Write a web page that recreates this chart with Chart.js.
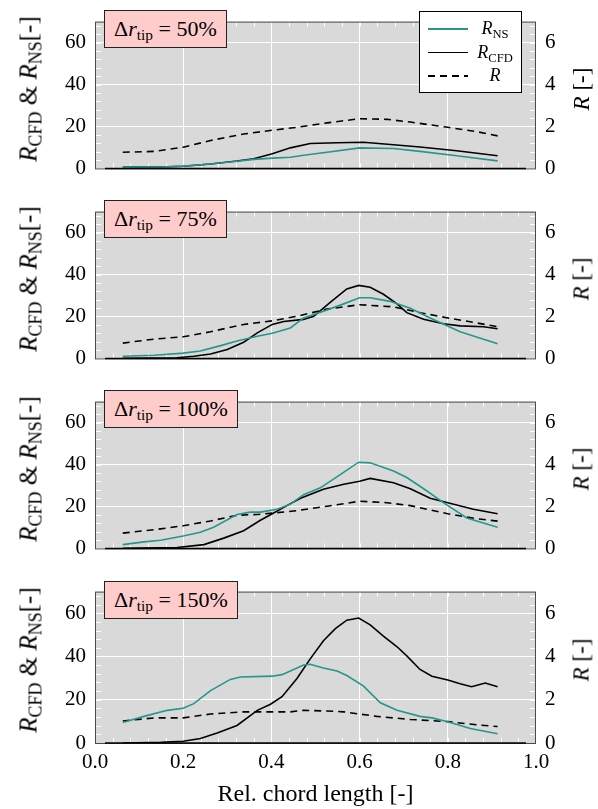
<!DOCTYPE html>
<html>
<head>
<meta charset="utf-8">
<script src="https://cdn.jsdelivr.net/npm/chart.js@4.4.1/dist/chart.umd.min.js"></script>
<style>
  html,body{margin:0;padding:0;background:#fff;}
  body{width:598px;height:809px;position:relative;overflow:hidden;font-family:"Liberation Serif",serif;color:#000;}
  .panel{position:absolute;left:0;width:598px;}
  canvas{display:block;}
  .ann{position:absolute;left:104px;top:10px;height:36px;line-height:36px;padding:0 9px;background:#ffcccc;border:1px solid #222;
       font-size:22px;white-space:nowrap;}
  sub{font-size:0.7em;vertical-align:-0.28em;line-height:0;}
  .vt{position:absolute;white-space:nowrap;transform:translate(-50%,-50%) rotate(-90deg);font-size:23px;line-height:1;}
  .vt.big{font-size:25px;}
  .vt.big sub{font-size:0.72em;}
  .legend{position:absolute;left:419px;top:11px;width:101px;height:80px;background:#fff;border:1px solid #000;}
  .lrow{position:absolute;left:0;width:101px;height:22px;}
  .lline{position:absolute;left:8px;top:11px;width:40px;height:1.6px;}
  .ltxt{position:absolute;left:52px;width:46px;text-align:center;top:0;font-size:18px;line-height:22px;}
</style>
</head>
<body>
<script>
// ---------------- data ----------------
const chordTicks = [0.0, 0.2, 0.4, 0.6, 0.8, 1.0];
const leftTicks = [0, 20, 40, 60];
const rightTicks = [0, 2, 4, 6];
const tipLabels = ['50%', '75%', '100%', '150%'];

// Δr_tip = 50%
const p50_ns_x  = [0.063,0.149,0.200,0.262,0.322,0.360,0.402,0.443,0.473,0.526,0.600,0.677,0.737,0.820,0.913];
const p50_ns_y  = [0.6,0.7,1.1,2.1,3.4,4.3,4.9,5.3,6.3,7.7,9.8,9.5,8.1,6.0,3.6];
const p50_cfd_x = [0.063,0.149,0.200,0.262,0.322,0.360,0.402,0.443,0.488,0.549,0.609,0.677,0.737,0.820,0.913];
const p50_cfd_y = [0.6,0.7,1.0,2.1,3.5,4.6,7.0,9.8,11.9,12.2,12.5,11.3,10.2,8.4,6.0];
const p50_r_x   = [0.063,0.134,0.200,0.262,0.337,0.402,0.458,0.526,0.600,0.662,0.715,0.800,0.866,0.913];
const p50_r_y   = [0.77,0.81,1.01,1.33,1.64,1.82,1.96,2.17,2.37,2.34,2.21,1.96,1.75,1.55];

// Δr_tip = 75%
const p75_ns_x  = [0.063,0.134,0.200,0.239,0.285,0.322,0.368,0.402,0.443,0.473,0.518,0.564,0.600,0.624,0.669,0.715,0.760,0.828,0.913];
const p75_ns_y  = [1.0,1.5,2.5,3.5,6.1,8.3,10.6,12.0,14.5,19.3,22.5,26.0,28.9,28.9,27.2,23.9,19.3,12.7,7.0];
const p75_cfd_x = [0.063,0.186,0.224,0.262,0.300,0.337,0.368,0.402,0.428,0.473,0.496,0.534,0.571,0.598,0.624,0.654,0.685,0.707,0.745,0.790,0.828,0.881,0.913];
const p75_cfd_y = [0.1,0.3,1.0,2.1,4.2,7.7,12.2,16.2,17.6,18.6,20.1,26.8,33.1,34.8,33.9,30.6,26.0,21.8,18.7,16.5,15.5,15.1,14.1];
const p75_r_x   = [0.063,0.134,0.200,0.262,0.337,0.402,0.458,0.526,0.600,0.677,0.737,0.800,0.866,0.913];
const p75_r_y   = [0.73,0.92,1.03,1.27,1.62,1.79,2.01,2.35,2.56,2.46,2.18,1.93,1.69,1.51];

// Δr_tip = 100%
const p100_ns_x  = [0.063,0.111,0.149,0.200,0.239,0.269,0.322,0.352,0.375,0.413,0.443,0.473,0.511,0.556,0.598,0.624,0.677,0.707,0.752,0.790,0.843,0.913];
const p100_ns_y  = [1.8,3.1,3.9,5.9,7.7,10.1,16.2,17.3,17.3,18.7,21.1,25.6,28.9,35.2,41.1,40.8,36.9,33.8,27.5,21.8,14.5,10.1];
const p100_cfd_x = [0.063,0.186,0.247,0.292,0.337,0.375,0.402,0.435,0.466,0.518,0.564,0.600,0.624,0.677,0.715,0.760,0.800,0.858,0.913];
const p100_cfd_y = [0.0,0.4,1.8,4.9,8.4,13.4,16.5,20.4,23.9,28.2,30.6,32.0,33.4,31.3,28.4,23.9,21.8,18.7,16.5];
const p100_r_x   = [0.063,0.134,0.200,0.262,0.322,0.368,0.402,0.458,0.526,0.600,0.662,0.715,0.800,0.866,0.913];
const p100_r_y   = [0.73,0.89,1.08,1.31,1.58,1.62,1.68,1.80,2.01,2.25,2.18,2.04,1.65,1.41,1.30];

// Δr_tip = 150%
const p150_ns_x  = [0.063,0.111,0.164,0.200,0.224,0.262,0.307,0.330,0.402,0.424,0.473,0.488,0.518,0.549,0.571,0.609,0.647,0.685,0.737,0.764,0.800,0.851,0.913];
const p150_ns_y  = [9.5,12.3,15.1,16.1,18.2,24.2,29.4,30.5,30.9,31.6,36.1,36.4,34.7,33.3,31.2,26.3,18.6,15.1,12.3,11.6,9.8,6.7,4.3];
const p150_cfd_x = [0.063,0.149,0.200,0.239,0.277,0.322,0.368,0.398,0.424,0.458,0.488,0.518,0.545,0.571,0.598,0.624,0.654,0.685,0.707,0.737,0.764,0.800,0.828,0.854,0.885,0.913];
const p150_cfd_y = [0.0,0.3,0.8,2.1,4.6,8.1,15.1,17.9,21.4,29.8,38.9,47.3,52.9,56.8,57.8,54.6,49.4,44.5,40.3,34.0,30.9,29.1,27.4,26.0,27.7,26.0];
const p150_r_x   = [0.063,0.134,0.200,0.262,0.337,0.402,0.443,0.473,0.526,0.564,0.600,0.639,0.715,0.800,0.866,0.913];
const p150_r_y   = [1.02,1.16,1.16,1.34,1.44,1.44,1.44,1.51,1.48,1.44,1.34,1.23,1.09,0.99,0.84,0.76];

// ---------------- drawing ----------------
const TEAL = '#26968c';
const FONT_FAMILY = "'Liberation Serif', serif";
const BG = '#d9d9d9';
Chart.defaults.font.family = FONT_FAMILY;
Chart.defaults.color = '#000';

const pairs = (xs, ys) => xs.map((x, i) => ({x: x, y: ys[i]}));

const panels = [
  {tip: tipLabels[0], ns: pairs(p50_ns_x, p50_ns_y),   cfd: pairs(p50_cfd_x, p50_cfd_y),   r: pairs(p50_r_x, p50_r_y)},
  {tip: tipLabels[1], ns: pairs(p75_ns_x, p75_ns_y),   cfd: pairs(p75_cfd_x, p75_cfd_y),   r: pairs(p75_r_x, p75_r_y)},
  {tip: tipLabels[2], ns: pairs(p100_ns_x, p100_ns_y), cfd: pairs(p100_cfd_x, p100_cfd_y), r: pairs(p100_r_x, p100_r_y)},
  {tip: tipLabels[3], ns: pairs(p150_ns_x, p150_ns_y), cfd: pairs(p150_cfd_x, p150_cfd_y), r: pairs(p150_r_x, p150_r_y)}
];

const bgPlugin = {
  id: 'bgPlugin',
  beforeDraw(chart) {
    const {ctx, chartArea: a} = chart;
    ctx.save();
    ctx.fillStyle = BG;
    ctx.fillRect(a.left, a.top, a.right - a.left, a.bottom - a.top);
    ctx.restore();
  },
  beforeDatasetsDraw(chart) {
    const {ctx, chartArea: a, scales} = chart;
    ctx.save();
    ctx.strokeStyle = '#ffffff';
    ctx.lineWidth = 1;
    ctx.beginPath();
    for (let i = 0; i <= 25; i++) {
      const px = Math.round(scales.x.getPixelForValue(i * 0.04)) + 0.5;
      ctx.moveTo(px, a.top); ctx.lineTo(px, a.top + 5);
      ctx.moveTo(px, a.bottom - 5); ctx.lineTo(px, a.bottom);
    }
    for (let i = 0; i <= 17; i++) {
      const py = Math.round(scales.y.getPixelForValue(i * 4)) + 0.5;
      ctx.moveTo(a.left, py); ctx.lineTo(a.left + 6, py);
      const py2 = Math.round(scales.y2.getPixelForValue(i * 0.4)) + 0.5;
      ctx.moveTo(a.right - 6, py2); ctx.lineTo(a.right, py2);
    }
    ctx.stroke();
    ctx.restore();
  },
  afterDraw(chart) {
    const {ctx, chartArea: a} = chart;
    ctx.save();
    ctx.strokeStyle = '#4a4a4a';
    ctx.lineWidth = 1;
    ctx.strokeRect(a.left + 0.5, a.top + 0.5, a.right - a.left - 1, a.bottom - a.top);
    ctx.strokeStyle = '#000';
    ctx.lineWidth = 1.5;
    ctx.beginPath();
    ctx.moveTo(a.left + 10, a.bottom);
    ctx.lineTo(a.right - 10, a.bottom);
    ctx.stroke();
    ctx.restore();
  }
};

const charts = [];

function buildPanel(idx) {
  const p = panels[idx];
  const isLast = idx === panels.length - 1;
  const top = idx * 190;
  const height = isLast ? 239 : 190;
  const padTop = isLast ? 6 : 5;
  const xAxisH = isLast ? 66 : 18;

  const wrap = document.createElement('div');
  wrap.className = 'panel';
  wrap.style.top = top + 'px';
  wrap.style.height = height + 'px';
  const cv = document.createElement('canvas');
  cv.width = 598; cv.height = height;
  cv.style.width = '598px'; cv.style.height = height + 'px';
  wrap.appendChild(cv);
  document.body.appendChild(wrap);

  charts.push(new Chart(cv, {
    type: 'line',
    data: {
      datasets: [
        {label: 'R_NS', data: p.ns, borderColor: TEAL, yAxisID: 'y'},
        {label: 'R_CFD', data: p.cfd, borderColor: '#000000', yAxisID: 'y'},
        {label: 'R', data: p.r, borderColor: '#000000', borderDash: [7, 5], yAxisID: 'y2'}
      ]
    },
    options: {
      responsive: false,
      animation: false,
      devicePixelRatio: 1,
      layout: {padding: {top: padTop, left: 0, right: 0, bottom: 0}},
      plugins: {legend: {display: false}, tooltip: {enabled: false}},
      elements: {point: {radius: 0}, line: {borderWidth: 1.6, tension: 0, fill: false}},
      scales: {
        x: {
          type: 'linear', min: 0, max: 1,
          afterBuildTicks: s => { s.ticks = chordTicks.map(v => ({value: v})); },
          afterFit: s => { s.height = xAxisH; },
          grid: {color: '#ffffff', lineWidth: 1, drawTicks: false},
          border: {display: false},
          ticks: {display: isLast, color: '#000', padding: 7, maxRotation: 0,
                  font: {family: FONT_FAMILY, size: 21},
                  callback: v => Number(v).toFixed(1)},
          title: {display: isLast, text: 'Rel. chord length [-]', color: '#000',
                  font: {family: FONT_FAMILY, size: 24}, padding: {top: 0, bottom: 0}}
        },
        y: {
          type: 'linear', position: 'left', min: 0, max: 70,
          afterBuildTicks: s => { s.ticks = leftTicks.map(v => ({value: v})); },
          afterFit: s => { s.width = 95; },
          grid: {color: '#ffffff', lineWidth: 1, drawTicks: false},
          border: {display: false},
          ticks: {color: '#000', padding: 9, font: {family: FONT_FAMILY, size: 21}}
        },
        y2: {
          type: 'linear', position: 'right', min: 0, max: 7,
          afterBuildTicks: s => { s.ticks = rightTicks.map(v => ({value: v})); },
          afterFit: s => { s.width = 62; },
          grid: {display: false, drawTicks: false},
          border: {display: false},
          ticks: {color: '#000', padding: 9, font: {family: FONT_FAMILY, size: 21}}
        }
      }
    },
    plugins: [bgPlugin]
  }));

  const ann = document.createElement('div');
  ann.className = 'ann';
  ann.style.top = (top + padTop + 5) + 'px';
  ann.innerHTML = '<span>Δ<i>r</i><sub>tip</sub>&nbsp;=&nbsp;' + p.tip + '</span>';
  document.body.appendChild(ann);

  const midY = top + padTop + 83.5;
  const lt = document.createElement('div');
  lt.className = 'vt big';
  lt.style.left = '28px'; lt.style.top = midY + 'px';
  lt.innerHTML = '<i>R</i><sub>CFD</sub> &amp; <i>R</i><sub>NS</sub>[-]';
  document.body.appendChild(lt);
  const rt = document.createElement('div');
  rt.className = 'vt';
  rt.style.left = '581px'; rt.style.top = midY + 'px';
  rt.innerHTML = '<i>R</i> [-]';
  document.body.appendChild(rt);
}

panels.forEach((_, i) => buildPanel(i));

const legendItems = [
  {html: '<i>R</i><sub>NS</sub>', style: 'background:' + TEAL},
  {html: '<i>R</i><sub>CFD</sub>', style: 'background:#000'},
  {html: '<i>R</i>', style: 'background:repeating-linear-gradient(to right,#000 0 7px,transparent 7px 12px)'}
];
const lg = document.createElement('div');
lg.className = 'legend';
legendItems.forEach((it, i) => {
  const row = document.createElement('div');
  row.className = 'lrow';
  row.style.top = (5 + i * 23.5) + 'px';
  row.innerHTML = '<div class="lline" style="' + it.style + '"></div><div class="ltxt">' + it.html + '</div>';
  lg.appendChild(row);
});
document.body.appendChild(lg);

if (document.fonts && document.fonts.load) {
  document.fonts.load("21px 'Liberation Serif'").then(() => charts.forEach(c => c.update('none')));
}
</script>
</body>
</html>
